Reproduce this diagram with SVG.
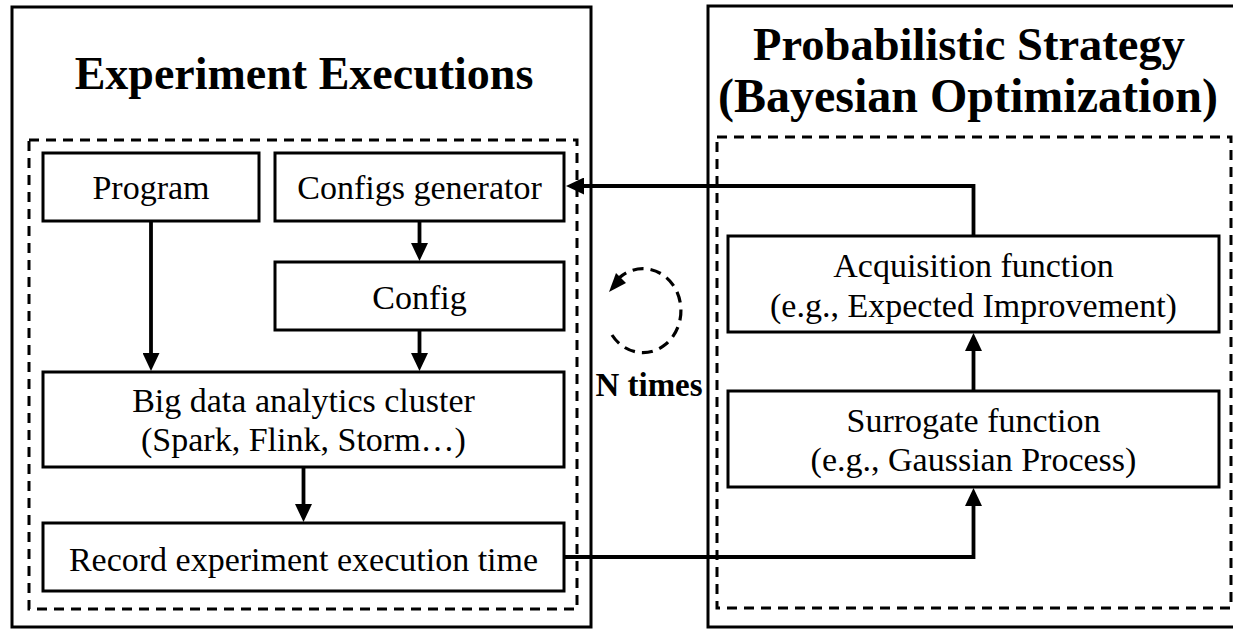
<svg xmlns="http://www.w3.org/2000/svg" width="1233" height="629" viewBox="0 0 1233 629">
  <style>
    .frame { fill: none; stroke: #000; stroke-width: 3; }
    .zone { fill: none; stroke: #000; stroke-width: 3; stroke-dasharray: 10 7; }
    .box { fill: #fff; stroke: #000; stroke-width: 3; }
    .title { font-family: "Liberation Serif", "Times New Roman", serif; font-weight: bold; font-size: 46px; text-anchor: middle; fill: #000; }
    .label { font-family: "Liberation Serif", "Times New Roman", serif; font-size: 34px; text-anchor: middle; fill: #000; }
    .edge { fill: none; stroke: #000; stroke-width: 3.8; marker-end: url(#arrow); }
    .loop { fill: none; stroke: #000; stroke-width: 3.2; stroke-dasharray: 11 7; }
  </style>
  <defs>
    <marker id="arrow" viewBox="0 0 18 17" refX="10" refY="8.5" markerWidth="18" markerHeight="17" orient="auto" markerUnits="userSpaceOnUse">
      <path d="M0,0 L18,8.5 L0,17 Z" fill="#000"/>
    </marker>
  </defs>

  <rect width="1233" height="629" fill="#fff"/>

  <!-- left panel: experiment executions -->
  <g id="experiment-executions">
    <rect class="frame" x="12" y="7" width="579" height="620"/>
    <text class="title" x="304" y="89">Experiment Executions</text>
    <rect class="zone" x="29" y="140" width="548" height="469"/>
  </g>

  <!-- right panel: probabilistic strategy -->
  <g id="probabilistic-strategy">
    <rect class="frame" x="708" y="6" width="540" height="621"/>
    <text class="title" x="969" y="60" style="font-size:46.5px">Probabilistic Strategy</text>
    <text class="title" x="968" y="112" style="font-size:48px">(Bayesian Optimization)</text>
    <rect class="zone" x="717" y="137" width="514" height="471"/>
  </g>

  <g id="program">
    <rect class="box" x="43" y="153" width="216" height="68"/>
    <text class="label" x="151" y="199">Program</text>
  </g>

  <g id="configs-generator">
    <rect class="box" x="275" y="153" width="289" height="68"/>
    <text class="label" x="419.5" y="199">Configs generator</text>
  </g>

  <g id="config">
    <rect class="box" x="275" y="262" width="289" height="68"/>
    <text class="label" x="419.5" y="309">Config</text>
  </g>

  <g id="cluster">
    <rect class="box" x="43" y="372" width="521" height="95"/>
    <text class="label" x="303.5" y="412">Big data analytics cluster</text>
    <text class="label" x="303.5" y="451">(Spark, Flink, Storm…)</text>
  </g>

  <g id="record-time">
    <rect class="box" x="43" y="523" width="521" height="68"/>
    <text class="label" x="303.5" y="571">Record experiment execution time</text>
  </g>

  <g id="acquisition-function">
    <rect class="box" x="728" y="236" width="491" height="96"/>
    <text class="label" x="973.5" y="277">Acquisition function</text>
    <text class="label" x="973.5" y="317">(e.g., Expected Improvement)</text>
  </g>

  <g id="surrogate-function">
    <rect class="box" x="728" y="391" width="491" height="96"/>
    <text class="label" x="973.5" y="432">Surrogate function</text>
    <text class="label" x="973.5" y="471">(e.g., Gaussian Process)</text>
  </g>

  <!-- iteration loop -->
  <g id="loop">
    <path class="loop" d="M612,335 A38,42 0 1 0 619,278"/>
    <polygon points="609,292 616,273 626,283" fill="#000"/>
    <text class="title" style="font-size:33px" x="649" y="396">N times</text>
  </g>

  <!-- connectors -->
  <g id="connectors">
    <path class="edge" d="M151,221 V363"/>
    <path class="edge" d="M419.5,221 V253"/>
    <path class="edge" d="M419.5,330 V363"/>
    <path class="edge" d="M303.5,467 V514"/>
    <path class="edge" d="M564,557 H973.5 V496"/>
    <path class="edge" d="M973.5,391 V341"/>
    <path class="edge" d="M973.5,236 V186 H574"/>
  </g>
</svg>
